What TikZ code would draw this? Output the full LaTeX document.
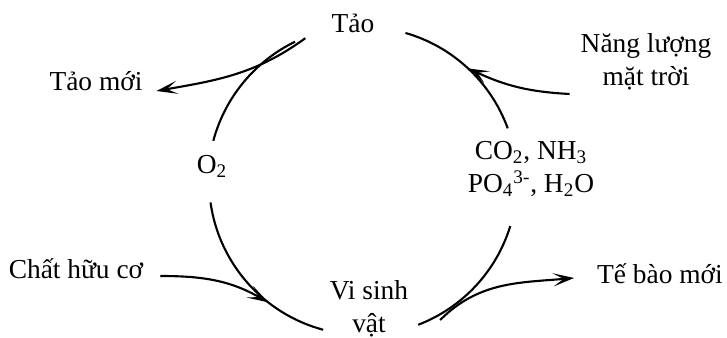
\documentclass[tikz,border=0pt]{standalone}
\usepackage{fontspec}
\setmainfont{Liberation Serif}
\usetikzlibrary{arrows.meta}

\begin{document}
\begin{tikzpicture}[x=0.02cm, y=0.02cm, line width=1.2pt,
		lbl/.style={anchor=base, align=center, inner sep=0pt, font=\fontsize{15.6}{18.8}\selectfont},
		flow/.style={-{Stealth[length=12pt, width=7.5pt, inset=6pt]}}]
	\useasboundingbox (0,0) rectangle (727,338);
	\coordinate (c) at (363,157);
	\node[lbl] (tao) at (353,305) {Tảo};
	\node[lbl] (o2) at (212,164) {O\textsubscript{2}};
	\node[lbl] (vsv) at (369,5) {Vi sinh\\vật};
	\node[lbl] (chem) at (531,145) {CO\textsubscript{2}, NH\textsubscript{3}\\PO\textsubscript{4}\textsuperscript{3-}, H\textsubscript{2}O};
	\node[lbl] (taomoi) at (96,247) {Tảo mới};
	\node[lbl] (sun) at (646,252) {Năng lượng\\mặt trời};
	\node[lbl] (chat) at (76,59) {Chất hữu cơ};
	\node[lbl] (tebao) at (660,54) {Tế bào mới};
	\draw ([shift={(116:155)}]c) coordinate (tao-out) arc[start angle=116, end angle=165, radius=155];
	\draw ([shift={(188:154)}]c) coordinate (o2-out) arc[start angle=188, end angle=255, radius=154];
	\draw ([shift={(291:154)}]c) coordinate (vsv-out) arc[start angle=291, end angle=343, radius=154];
	\draw ([shift={(20:154)}]c) coordinate (chem-out) arc[start angle=20, end angle=74, radius=154];
	\coordinate (taomoi-from) at ([shift={(112:154)}]c);
	\coordinate (chat-to) at ([shift={(232:154)}]c);
	\coordinate (tebao-from) at ([shift={(299:159)}]c);
	\coordinate (sun-to) at ([shift={(47:154)}]c);
	\draw[flow] (taomoi-from) to[out=216, in=10] ([shift={(13,0)}]taomoi.base east);
	\draw[flow] ([shift={(16,3)}]chat.base east) to[out=0, in=150] (chat-to);
	\draw[flow] (tebao-from) to[out=45, in=185] ([shift={(-22,6)}]tebao.base west);
	\draw[flow] ([shift={(-10,-8)}]sun.base west) to[out=177, in=-25] (sun-to);
\end{tikzpicture}
\end{document}
